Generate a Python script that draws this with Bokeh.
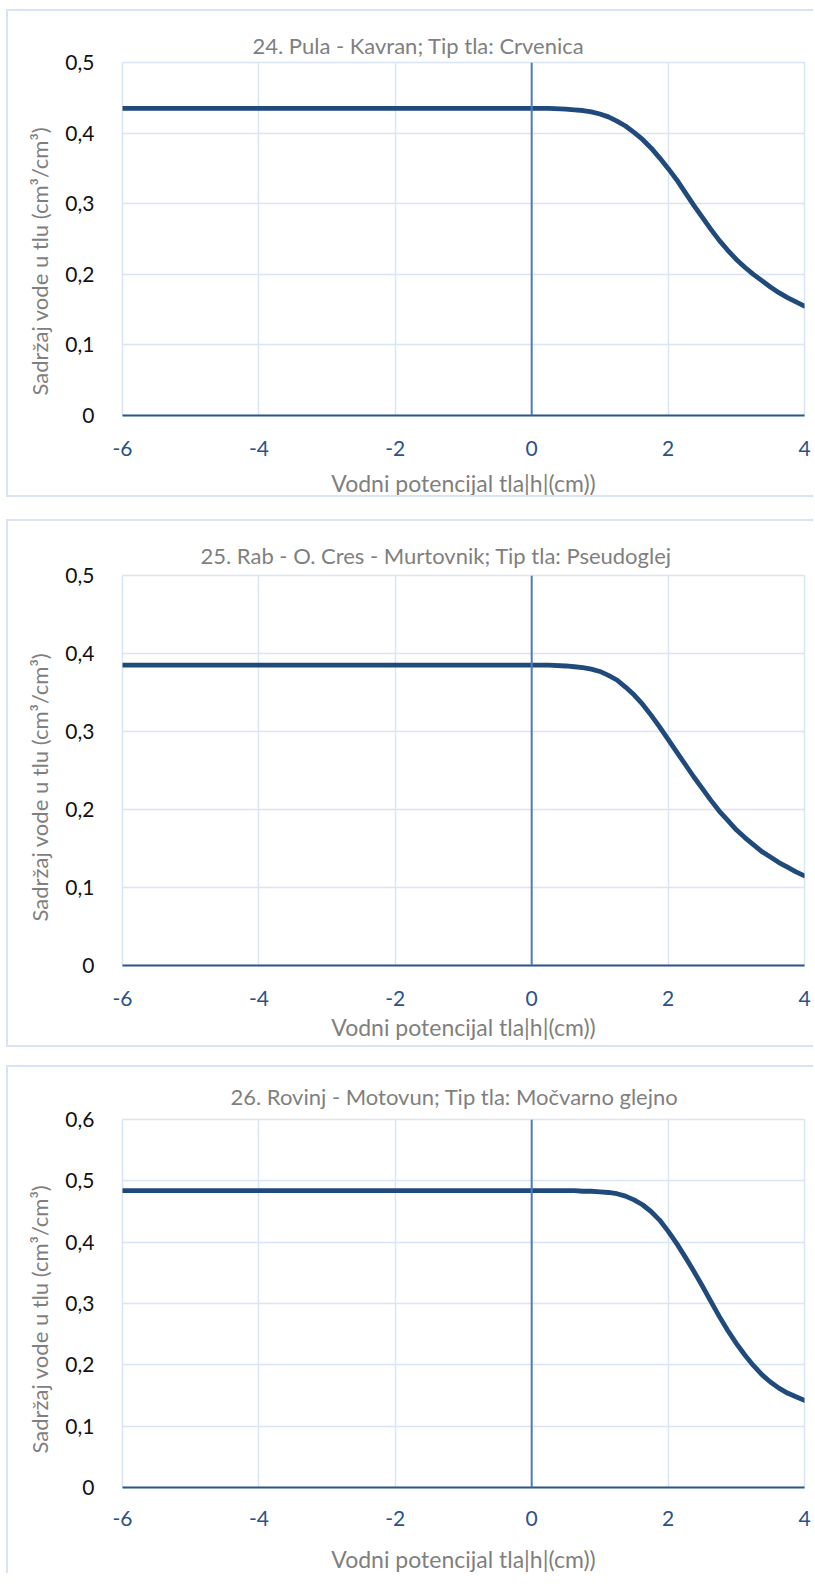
from bokeh.plotting import figure
from bokeh.models import Range1d, FixedTicker, Span, Spacer, Title
from bokeh.layouts import column, row
from bokeh.embed import file_html
from bokeh.resources import INLINE

# ---------------- data ----------------
h_values = [-6, -5, -4, -3, -2, -1, 0, 0.25,
            0.5, 0.625, 0.75, 0.875, 1.0, 1.125, 1.25, 1.375, 1.5, 1.625,
            1.75, 1.875, 2.0, 2.125, 2.25, 2.375, 2.5, 2.625, 2.75, 2.875,
            3.0, 3.125, 3.25, 3.375, 3.5, 3.625, 3.75, 3.875, 4.0]
theta_24 = [0.435, 0.435, 0.435, 0.435, 0.435, 0.435, 0.435, 0.435,
            0.434, 0.433, 0.432, 0.430, 0.427, 0.423, 0.417, 0.410, 0.401, 0.391,
            0.379, 0.365, 0.350, 0.334, 0.316, 0.298, 0.281, 0.264, 0.248, 0.234,
            0.221, 0.210, 0.200, 0.191, 0.182, 0.174, 0.167, 0.161, 0.155]
theta_25 = [0.385, 0.385, 0.385, 0.385, 0.385, 0.385, 0.385, 0.385,
            0.384, 0.383, 0.382, 0.380, 0.377, 0.372, 0.366, 0.357, 0.347, 0.335,
            0.321, 0.306, 0.290, 0.274, 0.258, 0.242, 0.227, 0.212, 0.198, 0.186,
            0.174, 0.164, 0.155, 0.146, 0.139, 0.132, 0.126, 0.120, 0.115]
theta_26 = [0.484, 0.484, 0.484, 0.484, 0.484, 0.484, 0.484, 0.484,
            0.484, 0.484, 0.483, 0.483, 0.482, 0.481, 0.479, 0.475, 0.469, 0.461,
            0.450, 0.436, 0.418, 0.398, 0.376, 0.353, 0.329, 0.304, 0.279, 0.256,
            0.235, 0.216, 0.199, 0.184, 0.172, 0.162, 0.154, 0.148, 0.142]

titles = ["24. Pula - Kavran; Tip tla: Crvenica",
          "25. Rab - O. Cres - Murtovnik; Tip tla: Pseudoglej",
          "26. Rovinj - Motovun; Tip tla: Močvarno glejno"]
x_label = "Vodni potencijal tla|h|(cm))"
y_label = "Sadržaj vode u tlu  (cm³/cm³)"

x_ticks = [-6, -4, -2, 0, 2, 4]
x_tick_labels = ["-6", "-4", "-2", "0", "2", "4"]
y_ticks_a = [0, 0.1, 0.2, 0.3, 0.4, 0.5]
y_tick_labels_a = ["0", "0,1", "0,2", "0,3", "0,4", "0,5"]
y_ticks_b = [0, 0.1, 0.2, 0.3, 0.4, 0.5, 0.6]
y_tick_labels_b = ["0", "0,1", "0,2", "0,3", "0,4", "0,5", "0,6"]

# ---------------- style ----------------
FONT = "Lato"
GRID = "#D9E4F4"
CURVE = "#1F4A7B"
VAXIS = "#4F7CC0"
HAXIS = "#2D558A"
GRAY = "#7F7F7F"
XTICK = "#2B5287"
BOX = "2px solid #DAE3F3"
CANVAS_W = 807
FRAME_W = 682
MB_LEFT = 114


def make_chart(title, y, ymax, yticks, ylabels, height, frame_h, mb_top,
               title_offset, title_standoff, ylab_offset,
               tick_standoff, xlabel_standoff, border_css):
    p = figure(width=CANVAS_W, height=height, output_backend="svg",
               toolbar_location=None, x_range=Range1d(-6, 4),
               y_range=Range1d(0, ymax),
               min_border_left=MB_LEFT,
               min_border_right=CANVAS_W - MB_LEFT - FRAME_W,
               min_border_top=mb_top,
               min_border_bottom=height - mb_top - frame_h)
    p.title.text = title
    p.title.align = "left"
    p.title.offset = title_offset
    p.title.standoff = title_standoff
    p.title.text_font = FONT
    p.title.text_font_style = "normal"
    p.title.text_font_size = "22px"
    p.title.text_color = GRAY

    p.outline_line_color = GRID
    p.outline_line_width = 1.5
    p.background_fill_color = "white"
    p.border_fill_color = "white"

    p.xgrid.grid_line_color = GRID
    p.ygrid.grid_line_color = GRID
    p.xgrid.grid_line_width = 1.5
    p.ygrid.grid_line_width = 1.5

    xa = p.xaxis[0]
    xa.ticker = FixedTicker(ticks=x_ticks)
    xa.major_label_overrides = dict(zip(x_ticks, x_tick_labels))
    xa.major_tick_line_color = None
    xa.minor_tick_line_color = None
    xa.axis_line_color = HAXIS
    xa.axis_line_width = 2
    xa.major_label_text_font = FONT
    xa.major_label_text_font_size = "21px"
    xa.major_label_text_color = XTICK
    xa.major_label_standoff = tick_standoff
    xa.axis_label = x_label
    xa.axis_label_text_font = FONT
    xa.axis_label_text_font_style = "normal"
    xa.axis_label_text_font_size = "23px"
    xa.axis_label_text_color = GRAY
    xa.axis_label_standoff = xlabel_standoff

    ya = p.yaxis[0]
    ya.ticker = FixedTicker(ticks=yticks)
    ya.major_label_overrides = dict(zip(yticks, ylabels))
    ya.major_tick_line_color = None
    ya.minor_tick_line_color = None
    ya.axis_line_color = None
    ya.major_label_text_font = FONT
    ya.major_label_text_font_size = "21px"
    ya.major_label_text_color = "#111111"
    ya.major_label_standoff = 22

    ytitle = Title(text=y_label, align="left", offset=ylab_offset,
                   standoff=20, text_font=FONT, text_font_style="normal",
                   text_font_size="22px", text_color=GRAY)
    p.add_layout(ytitle, "left")

    p.add_layout(Span(location=0, dimension="height", line_color=VAXIS,
                      line_width=2))
    p.line(h_values, y, line_color=CURVE, line_width=4.8, line_cap="round",
           line_join="round")
    p.styles = border_css
    return p


p1 = make_chart(titles[0], theta_24, 0.5, y_ticks_a, y_tick_labels_a,
                488, 353, 51, 130, 8, 20, 19, 10,
                {"border-left": BOX, "border-top": BOX, "border-bottom": BOX})
p2 = make_chart(titles[1], theta_25, 0.5, y_ticks_a, y_tick_labels_a,
                528, 390, 54, 78, 13, 44, 19, 4,
                {"border-left": BOX, "border-top": BOX, "border-bottom": BOX})
p3 = make_chart(titles[2], theta_26, 0.6, y_ticks_b, y_tick_labels_b,
                508, 369, 52, 108, 19, 34, 17, 16,
                {"border-left": BOX, "border-top": BOX})

stack = column(Spacer(height=9), p1, Spacer(height=22), p2, Spacer(height=18),
               p3, spacing=0)
layout = row(Spacer(width=6), stack, spacing=0)

open("out.html", "w").write(file_html(layout, INLINE))
